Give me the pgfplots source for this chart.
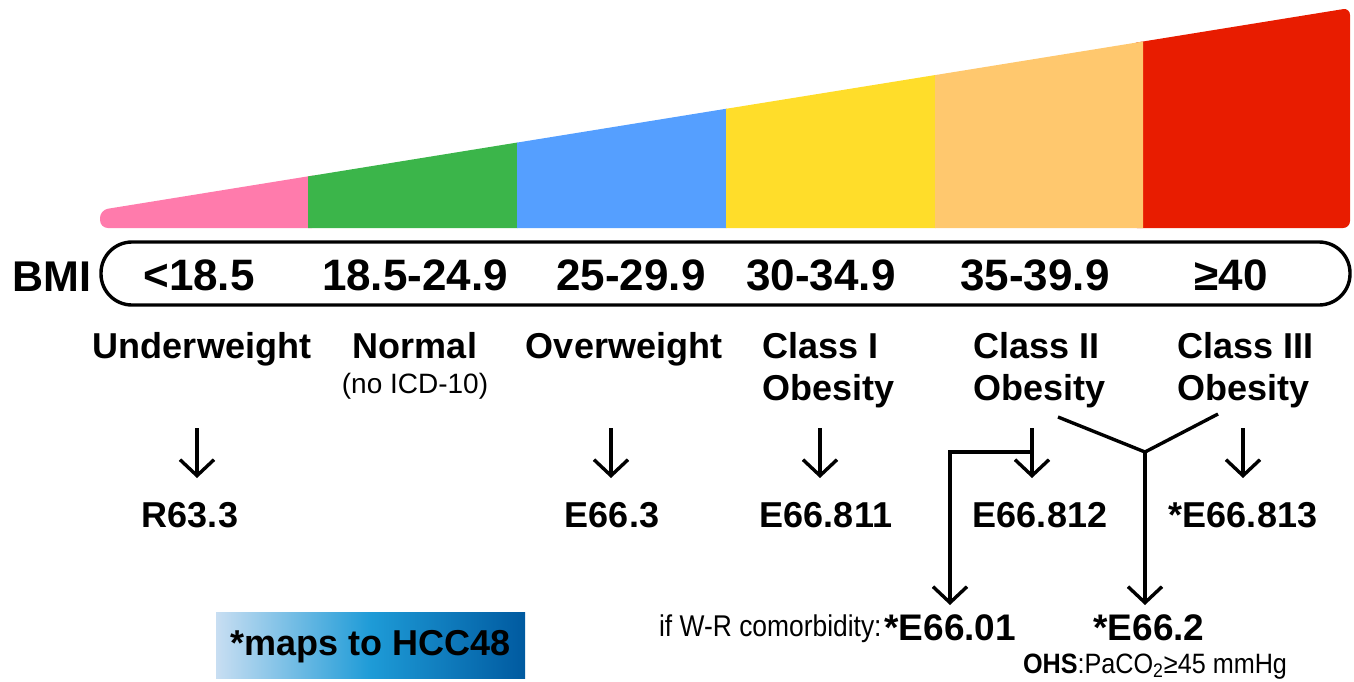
\documentclass[border=0pt]{standalone}
\usepackage{fontspec}
\setmainfont{Liberation Sans}
\usepackage{pgfplots}
\pgfplotsset{compat=1.18}
\usetikzlibrary{arrows.meta}
\definecolor{cpink}{RGB}{255,123,172}
\definecolor{cgreen}{RGB}{59,181,74}
\definecolor{cblue}{RGB}{85,159,255}
\definecolor{cyellow}{RGB}{255,221,42}
\definecolor{corange}{RGB}{255,200,110}
\definecolor{cred}{RGB}{232,28,0}
\definecolor{glight}{RGB}{200,222,242}
\definecolor{gmid}{RGB}{30,155,215}
\definecolor{gdark}{RGB}{0,90,160}
\newcommand{\bigfnt}{\fontsize{22}{26}\selectfont\bfseries}
\newcommand{\lab}{\fontsize{18}{21}\selectfont\bfseries}
\begin{document}
\begin{tikzpicture}
\begin{axis}[width=677pt,height=340.5pt,scale only axis,
  xmin=0,xmax=1354,ymin=0,ymax=681,y dir=reverse,
  hide axis,clip=false]
% wedge segments (x, top y) ; bottom at y=228
\addplot[fill=cpink,draw=none,rounded corners=4pt] coordinates {(320,228)(100,228)(100,210)(320,174.4)} -- cycle;
\addplot[fill=cred,draw=none,rounded corners=3.5pt] coordinates {(1130,228)(1130,43.6)(1350,8)(1350,228)} -- cycle;
\addplot[fill=cgreen,draw=none] coordinates {(308,228)(308,176.4)(517.5,142.5)(517.5,228)} -- cycle;
\addplot[fill=cblue,draw=none] coordinates {(517,228)(517,142.6)(726.5,108.7)(726.5,228)} -- cycle;
\addplot[fill=cyellow,draw=none] coordinates {(726,228)(726,108.8)(935.5,75.0)(935.5,228)} -- cycle;
\addplot[fill=corange,draw=none] coordinates {(935,228)(935,75.1)(1143,41.5)(1143,228)} -- cycle;
% BMI pill
\draw[line width=1.7pt,rounded corners=15.5pt] (101,242) rectangle (1350,305);
\node[anchor=base west,inner sep=0pt,font=\fontsize{21.5}{26}\selectfont\bfseries] at (12,291) {BMI};
\node[anchor=base,inner sep=0pt,font=\bigfnt] at (199,290) {<18.5};
\node[anchor=base,inner sep=0pt,font=\bigfnt] at (415,290) {18.5-24.9};
\node[anchor=base,inner sep=0pt,font=\bigfnt] at (631,290) {25-29.9};
\node[anchor=base,inner sep=0pt,font=\bigfnt] at (821,290) {30-34.9};
\node[anchor=base,inner sep=0pt,font=\bigfnt] at (1035,290) {35-39.9};
\node[anchor=base,inner sep=0pt,font=\bigfnt] at (1231,290) {≥40};
% category labels
\node[anchor=base,inner sep=0pt,font=\lab] at (202,358) {Underweight};
\node[anchor=base,inner sep=0pt,font=\lab] at (415,358) {Normal};
\node[anchor=base,inner sep=0pt,font=\fontsize{14}{16}\selectfont] at (415,393) {(no ICD-10)};
\node[anchor=base,inner sep=0pt,font=\lab] at (624,358) {Overweight};
\node[anchor=base west,inner sep=0pt,font=\lab] at (762,358) {Class I};
\node[anchor=base west,inner sep=0pt,font=\lab] at (762,400) {Obesity};
\node[anchor=base west,inner sep=0pt,font=\lab] at (973,358) {Class II};
\node[anchor=base west,inner sep=0pt,font=\lab] at (973,400) {Obesity};
\node[anchor=base west,inner sep=0pt,font=\lab] at (1177,358) {Class III};
\node[anchor=base west,inner sep=0pt,font=\lab] at (1177,400) {Obesity};
% arrows
\pgfplotsset{every axis plot/.append style={line width=1.7pt,black}}
\addplot[-{Straight Barb[length=8pt,width=17pt]}] coordinates {(197,428)(197,478)};
\addplot[-{Straight Barb[length=8pt,width=17pt]}] coordinates {(611,428)(611,478)};
\addplot[-{Straight Barb[length=8pt,width=17pt]}] coordinates {(820,428)(820,478)};
\addplot[-{Straight Barb[length=8pt,width=17pt]}] coordinates {(1032,428)(1032,478)};
\addplot[-{Straight Barb[length=8pt,width=17pt]}] coordinates {(1243,428)(1243,478)};
\addplot[-{Straight Barb[length=8pt,width=17pt]}] coordinates {(1032,452)(950,452)(950,605)};
\addplot[] coordinates {(1058,417)(1145,452)(1218,414)};
\addplot[-{Straight Barb[length=8pt,width=17pt]}] coordinates {(1145,452)(1145,605)};
% codes
\node[anchor=base,inner sep=0pt,font=\lab] at (190,527) {R63.3};
\node[anchor=base,inner sep=0pt,font=\lab] at (612,527) {E66.3};
\node[anchor=base,inner sep=0pt,font=\lab] at (826,527) {E66.811};
\node[anchor=base,inner sep=0pt,font=\lab] at (1040,527) {E66.812};
\node[anchor=base,inner sep=0pt,font=\lab] at (1243,527) {*E66.813};
\node[anchor=base east,inner sep=0pt,font=\fontsize{15}{18}\selectfont] at (882,636) {\scalebox{0.88}[1]{if W-R comorbidity:}};
\node[anchor=base west,inner sep=0pt,font=\fontsize{18.5}{22}\selectfont\bfseries] at (884,640) {*E66.01};
\node[anchor=base,inner sep=0pt,font=\fontsize{18.5}{22}\selectfont\bfseries] at (1149,640) {*E66.2};
\node[anchor=base,inner sep=0pt,font=\fontsize{14}{16}\selectfont] at (1155,673) {\scalebox{0.9}[1]{\textbf{OHS}:PaCO\textsubscript{2}≥45 mmHg}};
% HCC48 box
\fill[left color=glight,right color=gdark,middle color=gmid] (216,612) rectangle (525,678);
\node[anchor=base,inner sep=0pt,font=\fontsize{18}{21}\selectfont\bfseries] at (371,655) {*maps to HCC48};
\end{axis}
\pgfresetboundingbox
\path (current axis.south west) rectangle (current axis.north east);
\end{tikzpicture}
\end{document}
